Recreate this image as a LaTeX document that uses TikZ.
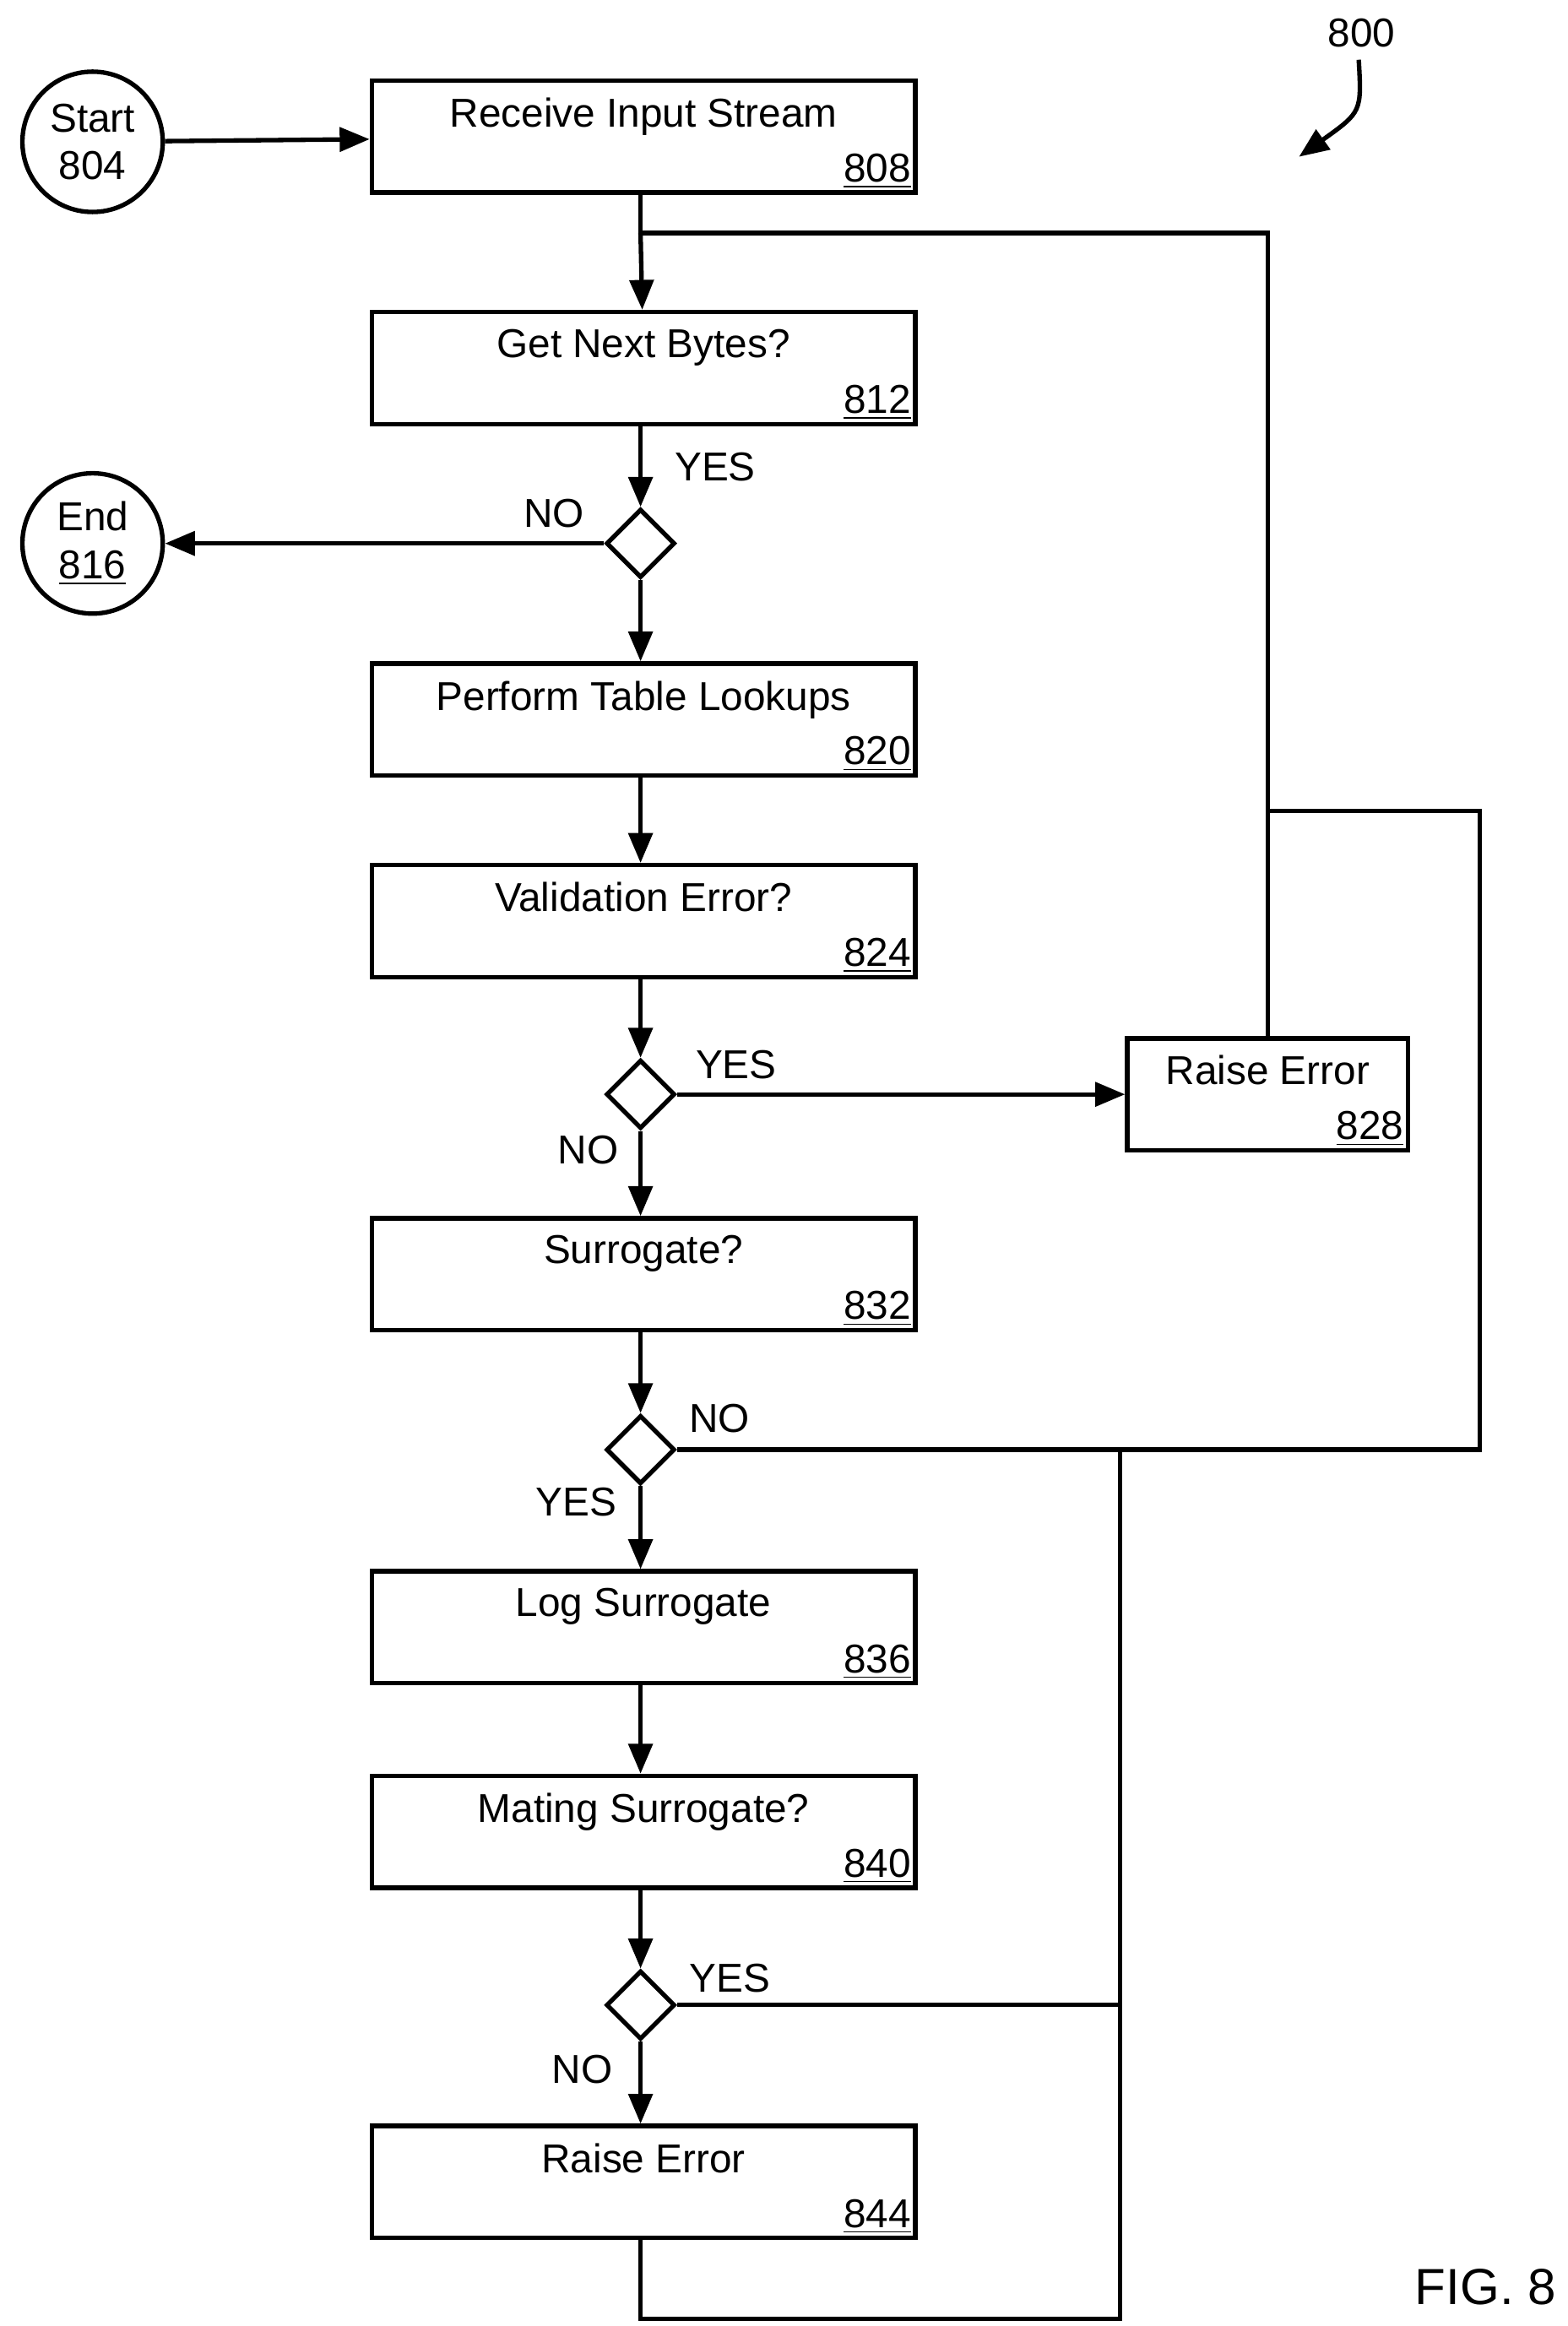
\documentclass[tikz,border=0pt]{standalone}
\usepackage{fontspec}
\setmainfont{Liberation Sans}
\usepackage{tikz}
\usetikzlibrary{arrows.meta,shapes.geometric,positioning}

\tikzset{
  box/.style={draw,line width=1.5pt,minimum width=182pt,minimum height=37.5pt,inner sep=0pt},
  term/.style={draw,circle,line width=1.5pt,minimum size=47pt,inner sep=0pt,align=center},
  dec/.style={draw,diamond,line width=1.5pt,minimum size=23pt,inner sep=0pt},
  flow/.style={line width=1.5pt,-{Triangle[length=10pt,width=8pt]}},
  wire/.style={line width=1.5pt},
  lbl/.style={inner sep=2pt}
}
\newcommand{\stepbox}[4]{%
  \node[box] (#1) at (#2) {};
  \node[below=3pt of #1.north] (#1t) {#3};
  \node[anchor=south east,inner sep=2pt] (#1n) at (#1.south east) {\underline{#4}};
}

\begin{document}
\begin{tikzpicture}[x=0.5pt,y=-0.5pt,font=\fontsize{13.5}{16}\selectfont]
  \useasboundingbox (0,0) rectangle (1050,1558);

  \node[term] (start) at (62,95) {Start\\804};
  \node[term] (end) at (62,364) {End\\\underline{816}};

  \stepbox{s808}{431,91.5}{Receive Input Stream}{808}
  \stepbox{s812}{431,246.5}{Get Next Bytes?}{812}
  \stepbox{s820}{431,482}{Perform Table Lookups}{820}
  \stepbox{s824}{431,617}{Validation Error?}{824}
  \stepbox{s832}{431,853.5}{Surrogate?}{832}
  \stepbox{s836}{431,1090}{Log Surrogate}{836}
  \stepbox{s840}{431,1227}{Mating Surrogate?}{840}
  \stepbox{s844}{431,1461.5}{Raise Error}{844}

  \node[box,minimum width=94pt] (s828) at (849,733) {};
  \node[below=3pt of s828.north] (s828t) {Raise Error};
  \node[anchor=south east,inner sep=2pt] (s828n) at (s828.south east) {\underline{828}};

  \node[dec] (d812) at (429,364) {};
  \node[dec] (d824) at (429,733) {};
  \node[dec] (d832) at (429,971) {};
  \node[dec] (d840) at (429,1343) {};

  % junctions
  \coordinate (j1) at (429,156);
  \coordinate (j2) at (849,156);
  \coordinate (j3) at (849,543);
  \coordinate (j4) at (991,543);
  \coordinate (j5) at (991,971);
  \coordinate (j6) at (750,971);
  \coordinate (j7) at (750,1553);
  \coordinate (j8) at (429,1553);
  \coordinate (j9) at (750,1343);

  \draw[flow] (start) -- (s808);
  \draw[wire] (s808.south -| j1) -- (j1);
  \draw[flow] (j1) -- (s812);
  \draw[flow] (s812.south -| d812) -- (d812);
  \draw[flow] (d812) -- (end);
  \draw[flow] (d812) -- (s820.north -| d812);
  \draw[flow] (s820.south -| d812) -- (s824.north -| d812);
  \draw[flow] (s824.south -| d824) -- (d824);
  \draw[flow] (d824) -- (s828);
  \draw[flow] (d824) -- (s832.north -| d824);
  \draw[flow] (s832.south -| d832) -- (d832);
  \draw[flow] (d832) -- (s836.north -| d832);
  \draw[flow] (s836.south -| d832) -- (s840.north -| d832);
  \draw[flow] (s840.south -| d840) -- (d840);
  \draw[flow] (d840) -- (s844.north -| d840);
  \draw[wire] (s828) -- (j2) -- (j1);
  \draw[wire] (d832) -- (j5) -- (j4) -- (j3);
  \draw[wire] (d840) -- (j9);
  \draw[wire] (j6) -- (j7) -- (j8) -- (s844.south -| j8);

  \node[lbl] (y812) at (479,313) {YES};
  \node[lbl] (n812) at (371,344) {NO};
  \node[lbl] (y824) at (493,713) {YES};
  \node[lbl] (n824) at (394,770) {NO};
  \node[lbl] (n832) at (482,950) {NO};
  \node[lbl] (y832) at (386,1006) {YES};
  \node[lbl] (y840) at (489,1325) {YES};
  \node[lbl] (n840) at (390,1386) {NO};

  \node (fig) at (912,22) {800};
  \coordinate (figtip) at (870,105);
  \draw[flow] (910,40) .. controls (912,75) .. (figtip);
  \node[font=\fontsize{17}{20}\selectfont] (figno) at (995,1532) {FIG. 8};
\end{tikzpicture}
\end{document}
